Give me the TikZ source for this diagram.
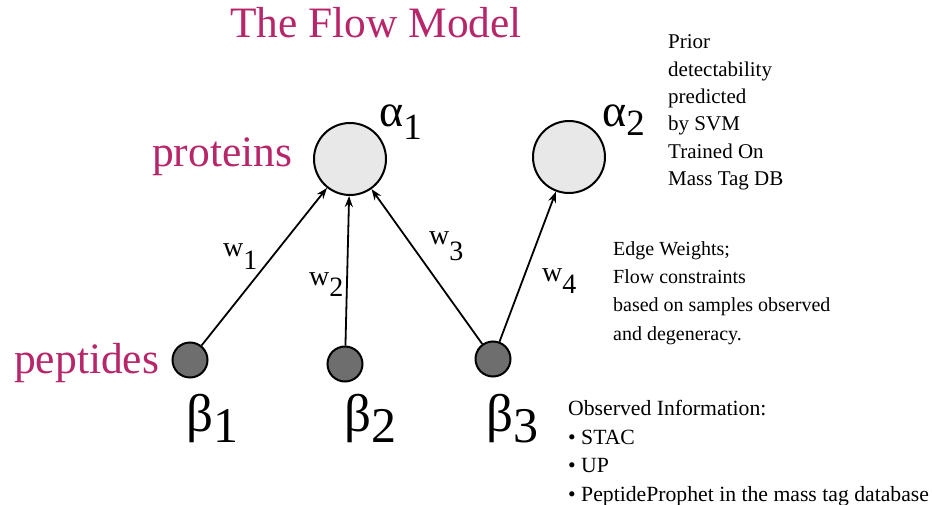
\documentclass[tikz,border=0pt]{standalone}
\usepackage{fontspec}
\setmainfont{Liberation Serif}
\usetikzlibrary{arrows.meta}
\definecolor{titlepink}{HTML}{B8266A}
\definecolor{protfill}{HTML}{E8E8E8}
\definecolor{pepfill}{HTML}{6E6E6E}
\tikzset{
  protein/.style={circle, draw=black, line width=2pt, fill=protfill, minimum size=72pt, inner sep=0},
  peptide/.style={circle, draw=black, line width=2pt, fill=pepfill, minimum size=35pt, inner sep=0},
  edge/.style={line width=1.8pt, -{Stealth[length=11pt,width=8pt]}},
  pinktext/.style={text=titlepink, inner sep=0, anchor=base west},
  symlabel/.style={inner sep=0, anchor=base west},
  wlabel/.style={inner sep=0, anchor=base west, font=\fontsize{28}{30}\selectfont},
  infotext/.style={inner sep=0, anchor=north west, align=left},
}
\begin{document}
\begin{tikzpicture}[x=1pt,y=-1pt]
\useasboundingbox (0,0) rectangle (932,505);
% title and row labels
\node[pinktext, font=\fontsize{43.4}{46}\selectfont] (title) at (230,38) {The Flow Model};
\node[pinktext, font=\fontsize{43.5}{46}\selectfont] (prot) at (152,167) {proteins};
\node[pinktext, font=\fontsize{43.5}{46}\selectfont] (pep) at (14,373) {peptides};
% proteins
\node[protein] (a1) at (350,159) {};
\node[protein] (a2) at (569,157) {};
% peptides
\node[peptide] (b1) at (190,360) {};
\node[peptide] (b2) at (345,364) {};
\node[peptide] (b3) at (493,359) {};
% edges
\draw[edge] (b1) -- (a1);
\draw[edge] (b2) -- (a1);
\draw[edge] (b3) -- (a1);
\draw[edge] (b3) -- (a2);
% symbol labels
\node[symlabel, font=\fontsize{46}{48}\selectfont] (la1) at (379,127) {α\raisebox{-13pt}{\fontsize{37}{40}\selectfont 1}};
\node[symlabel, font=\fontsize{46}{48}\selectfont] (la2) at (602,127) {α\raisebox{-9pt}{\fontsize{37}{40}\selectfont 2}};
\node[symlabel, font=\fontsize{53}{55}\selectfont] (lb1) at (186,431) {β\raisebox{-11pt}{\fontsize{50}{52}\selectfont 1}};
\node[symlabel, font=\fontsize{53}{55}\selectfont] (lb2) at (344,431) {β\raisebox{-11pt}{\fontsize{50}{52}\selectfont 2}};
\node[symlabel, font=\fontsize{53}{55}\selectfont] (lb3) at (486,431) {β\raisebox{-11pt}{\fontsize{50}{52}\selectfont 3}};
% weight labels
\node[wlabel] (w1) at (223,257) {w\raisebox{-13pt}{1}};
\node[wlabel] (w2) at (309,285) {w\raisebox{-12pt}{2}};
\node[wlabel] (w3) at (429,245) {w\raisebox{-16pt}{3}};
\node[wlabel] (w4) at (542,281) {w\raisebox{-12pt}{4}};
% info texts
\node[infotext, font=\fontsize{21}{27.4}\selectfont] (prior) at (668,34.5) {Prior\\detectability\\predicted\\by SVM\\Trained On\\Mass Tag DB};
\node[infotext, font=\fontsize{20}{28.3}\selectfont] (edgew) at (613,241.3) {Edge Weights;\\Flow constraints\\based on samples observed\\and degeneracy.};
\node[infotext, font=\fontsize{21.7}{28.5}\selectfont] (obs) at (568,400.5) {Observed Information:\\\textbullet{} STAC\\\textbullet{} UP\\\textbullet{} PeptideProphet in the mass tag database};
\end{tikzpicture}
\end{document}
